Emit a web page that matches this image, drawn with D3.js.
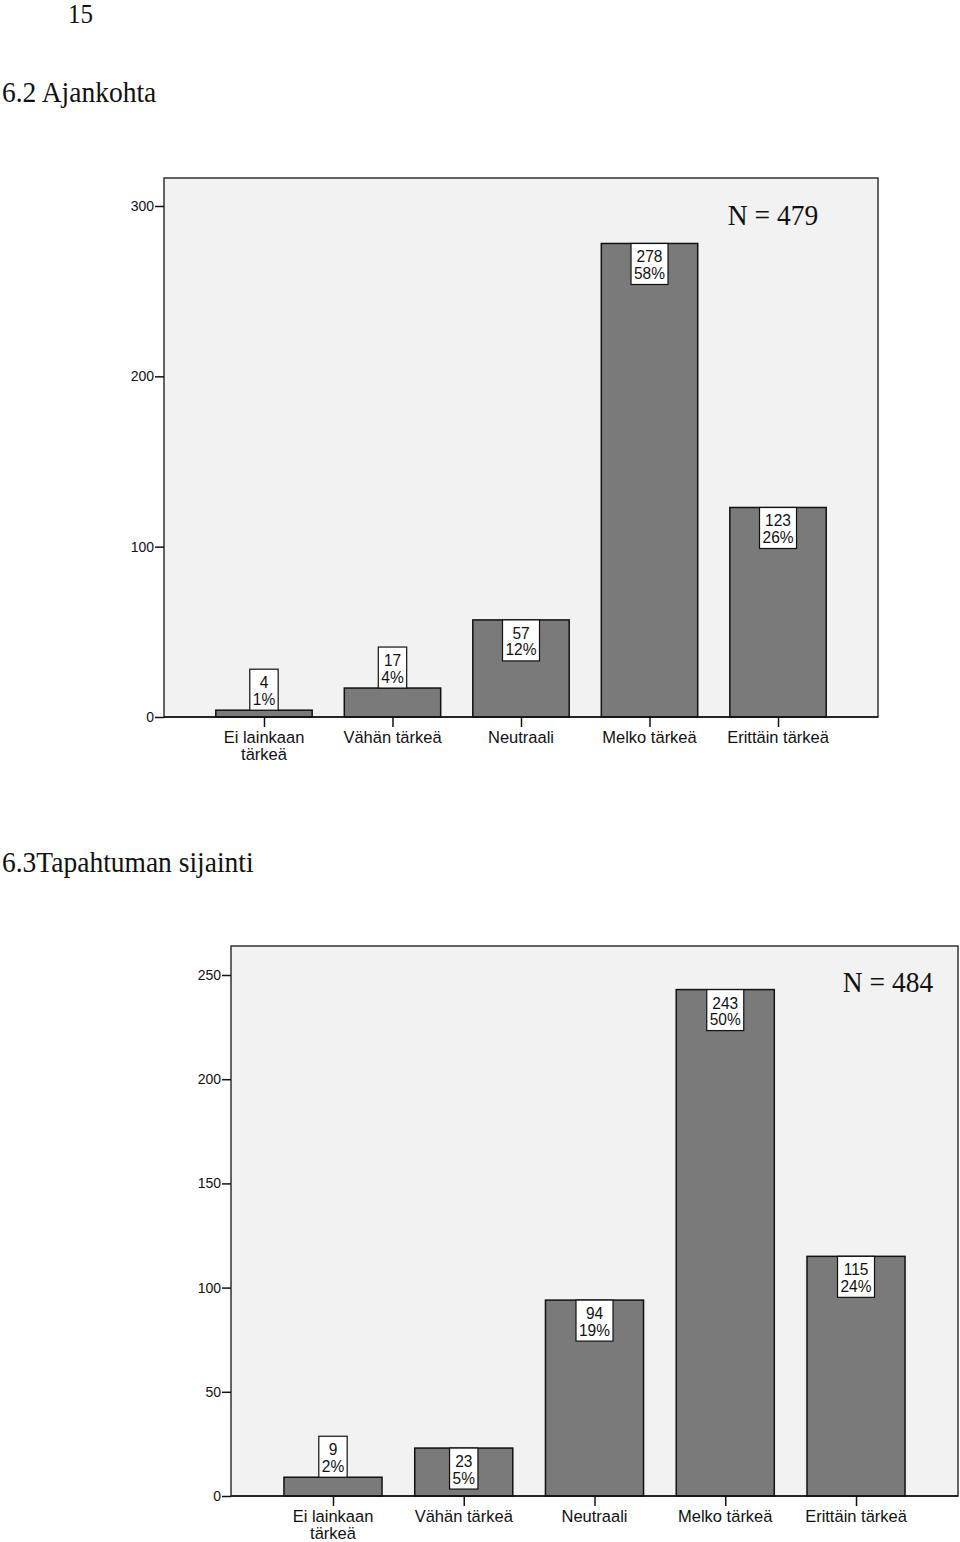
<!DOCTYPE html>
<html><head><meta charset="utf-8">
<script src="https://cdn.jsdelivr.net/npm/d3@7"></script>
<style>body{margin:0;background:#fff}svg{display:block}</style>
</head><body>
<script>
const categories = ["Ei lainkaan tärkeä", "Vähän tärkeä", "Neutraali", "Melko tärkeä", "Erittäin tärkeä"];
const ajankohtaCounts = [4, 17, 57, 278, 123];
const ajankohtaPercents = ["1%", "4%", "12%", "58%", "26%"];
const ajankohtaTicks = [0, 100, 200, 300];
const sijaintiCounts = [9, 23, 94, 243, 115];
const sijaintiPercents = ["2%", "5%", "19%", "50%", "24%"];
const sijaintiTicks = [0, 50, 100, 150, 200, 250];

const svg = d3.select("body").append("svg").attr("width", 960).attr("height", 1542);
const serif = "'Liberation Serif', 'Times New Roman', serif";
const sans = "'Liberation Sans', Arial, sans-serif";

function stext(parent, x, y, str, size, family, sy, anchor) {
  return parent.append("text").attr("transform", `translate(${x},${y}) scale(1,${sy})`)
    .attr("text-anchor", anchor || "start").attr("font-family", family).attr("font-size", size)
    .attr("fill", "#111").text(str);
}

stext(svg, 68, 23, "15", 25, serif, 1.05);
stext(svg, 2, 102, "6.2 Ajankohta", 27.5, serif, 1.05);
stext(svg, 2, 872, "6.3Tapahtuman sijainti", 27.5, serif, 1.05);

function chart(o) {
  const g = svg.append("g");
  const y = d3.scaleLinear().domain([0, o.tickMax]).range([o.y0, o.yTick]);
  const x = d3.scalePoint().domain(categories).range([o.left, o.right]).padding(o.pad);
  const bw = x.step() * 0.75;
  g.append("rect").attr("x", o.left).attr("y", o.top).attr("width", o.right - o.left).attr("height", o.y0 - o.top)
    .attr("fill", "#f2f2f2").attr("stroke", "#333").attr("stroke-width", 1.5);
  const ya = g.append("g").attr("transform", `translate(${o.left},0)`)
    .call(d3.axisLeft(y).tickValues(o.ticks).tickSize(9).tickPadding(1).tickFormat(d3.format("d")));
  ya.select(".domain").remove();
  ya.selectAll("line").attr("stroke", "#111").attr("stroke-width", 1.5);
  ya.selectAll("text").attr("font-family", sans).attr("font-size", 14).attr("fill", "#111");
  g.selectAll(".bar").data(o.counts).join("rect")
    .attr("x", (d, i) => x(categories[i]) - bw / 2).attr("y", d => y(d))
    .attr("width", bw).attr("height", d => o.y0 - y(d))
    .attr("fill", "#7a7a7a").attr("stroke", "#111").attr("stroke-width", 1.5);
  const xa = g.append("g").attr("transform", `translate(0,${o.y0})`)
    .call(d3.axisBottom(x).tickSize(10).tickFormat(""));
  xa.select(".domain").attr("stroke", "#111").attr("stroke-width", 1.5).attr("d", `M${o.left},0H${o.right}`);
  xa.selectAll("line").attr("stroke", "#111").attr("stroke-width", 1.5);
  categories.forEach((c, i) => {
    const lines = c === "Ei lainkaan tärkeä" ? ["Ei lainkaan", "tärkeä"] : [c];
    lines.forEach((l, k) => stext(g, x(c), o.y0 + 26 + k * 16.5, l, 16.5, sans, 1.04, "middle"));
  });
  o.counts.forEach((v, i) => {
    const cx = x(categories[i]);
    const bh = 41;
    const top = (o.y0 - y(v)) >= bh ? y(v) : y(v) - bh;
    const lg = g.append("g");
    const r = lg.append("rect").attr("y", top).attr("height", bh).attr("fill", "#fff").attr("stroke", "#111").attr("stroke-width", 1.2);
    const t1 = stext(lg, cx, top + 19, v, 15.5, sans, 1.04, "middle");
    const t2 = stext(lg, cx, top + 35.5, o.pcts[i], 15.5, sans, 1.04, "middle");
    const w = Math.max(t1.node().getComputedTextLength(), t2.node().getComputedTextLength()) + 6;
    r.attr("x", cx - w / 2).attr("width", w);
  });
  stext(svg, o.nx, o.ny, o.nText, 27.5, serif, 1.05, "middle");
}

chart({counts: ajankohtaCounts, pcts: ajankohtaPercents, ticks: ajankohtaTicks, tickMax: 300,
  left: 164, right: 878, top: 178, y0: 717, yTick: 206, pad: 0.778, nx: 773, ny: 225, nText: "N = 479"});
chart({counts: sijaintiCounts, pcts: sijaintiPercents, ticks: sijaintiTicks, tickMax: 250,
  left: 231, right: 958, top: 946, y0: 1496, yTick: 975, pad: 0.78, nx: 888, ny: 992, nText: "N = 484"});
</script>
</body></html>
